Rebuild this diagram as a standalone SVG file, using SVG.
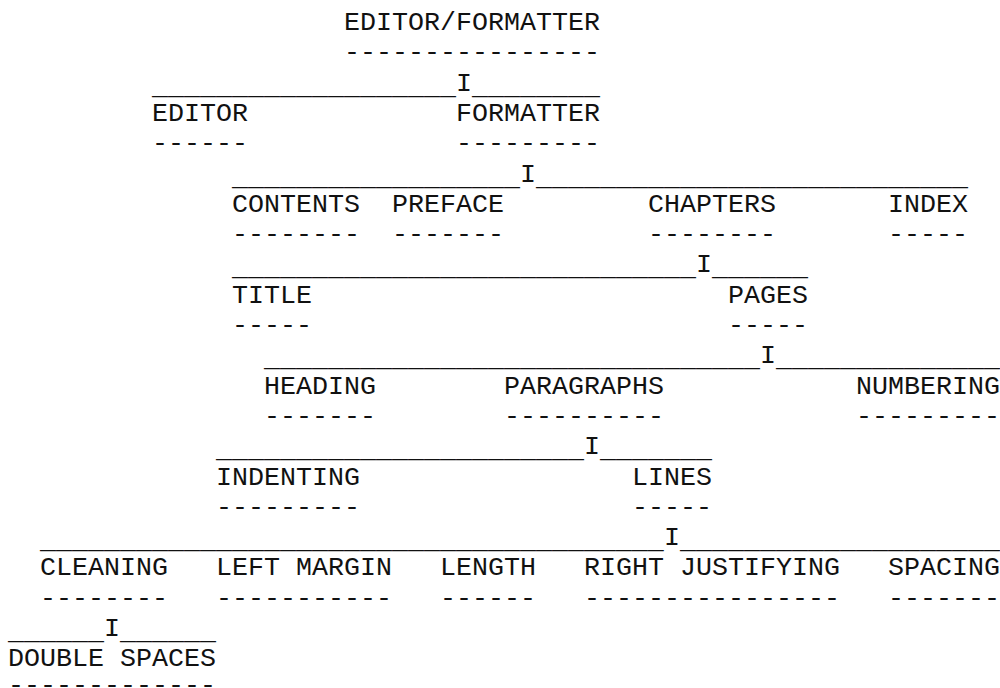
<svg xmlns="http://www.w3.org/2000/svg" width="1000" height="688" viewBox="0 0 1000 688">
<style>
text{font-family:"Liberation Mono","Courier New",monospace;font-size:26.667px;fill:#111;white-space:pre}
</style>
<rect width="1000" height="688" fill="#fff"/>
<g id="connectors">
<text x="152" y="93.6">___________________</text><text x="456" y="90.6">I</text><text x="472" y="93.6">________</text>
<text x="232" y="184.5">__________________</text><text x="520" y="181.5">I</text><text x="536" y="184.5">___________________________</text>
<text x="232" y="275.4">_____________________________</text><text x="696" y="272.4">I</text><text x="712" y="275.4">______</text>
<text x="264" y="366.3">_______________________________</text><text x="760" y="363.3">I</text><text x="776" y="366.3">______________</text>
<text x="216" y="457.2">_______________________</text><text x="584" y="454.2">I</text><text x="600" y="457.2">_______</text>
<text x="40" y="548.1">_______________________________________</text><text x="664" y="545.1">I</text><text x="680" y="548.1">____________________</text>
<text x="8" y="639">______</text><text x="104" y="636">I</text><text x="120" y="639">______</text>
</g>
<g id="n-editor-formatter"><text x="344" y="30">EDITOR/FORMATTER</text><text x="344" y="60.3">----------------</text></g>
<g id="n-editor"><text x="152" y="120.9">EDITOR</text><text x="152" y="151.2">------</text></g>
<g id="n-formatter"><text x="456" y="120.9">FORMATTER</text><text x="456" y="151.2">---------</text></g>
<g id="n-contents"><text x="232" y="211.8">CONTENTS</text><text x="232" y="242.1">--------</text></g>
<g id="n-preface"><text x="392" y="211.8">PREFACE</text><text x="392" y="242.1">-------</text></g>
<g id="n-chapters"><text x="648" y="211.8">CHAPTERS</text><text x="648" y="242.1">--------</text></g>
<g id="n-index"><text x="888" y="211.8">INDEX</text><text x="888" y="242.1">-----</text></g>
<g id="n-title"><text x="232" y="302.7">TITLE</text><text x="232" y="333">-----</text></g>
<g id="n-pages"><text x="728" y="302.7">PAGES</text><text x="728" y="333">-----</text></g>
<g id="n-heading"><text x="264" y="393.6">HEADING</text><text x="264" y="423.9">-------</text></g>
<g id="n-paragraphs"><text x="504" y="393.6">PARAGRAPHS</text><text x="504" y="423.9">----------</text></g>
<g id="n-numbering"><text x="856" y="393.6">NUMBERING</text><text x="856" y="423.9">---------</text></g>
<g id="n-indenting"><text x="216" y="484.5">INDENTING</text><text x="216" y="514.8">---------</text></g>
<g id="n-lines"><text x="632" y="484.5">LINES</text><text x="632" y="514.8">-----</text></g>
<g id="n-cleaning"><text x="40" y="575.4">CLEANING</text><text x="40" y="605.7">--------</text></g>
<g id="n-left-margin"><text x="216" y="575.4">LEFT MARGIN</text><text x="216" y="605.7">-----------</text></g>
<g id="n-length"><text x="440" y="575.4">LENGTH</text><text x="440" y="605.7">------</text></g>
<g id="n-right-justifying"><text x="584" y="575.4">RIGHT JUSTIFYING</text><text x="584" y="605.7">----------------</text></g>
<g id="n-spacing"><text x="888" y="575.4">SPACING</text><text x="888" y="605.7">-------</text></g>
<g id="n-double-spaces"><text x="8" y="666.3">DOUBLE SPACES</text><text x="8" y="693">-------------</text></g>
</svg>
